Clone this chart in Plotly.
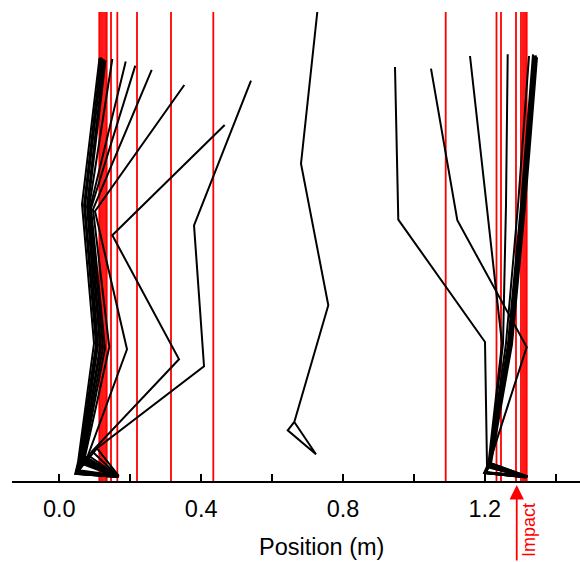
import plotly.graph_objects as go

# Stick-figure frames of a jump (horizontal position and height, metres).
# Each frame: trunk top -> hip -> knee -> ankle -> heel -> toe -> ankle.

# take-off frames
takeoff_top_x = [0.1134, 0.1176, 0.1218, 0.1261, 0.1303, 0.1495, 0.1873, 0.2143, 0.2606, 0.3525, 0.4664, 0.5406]
takeoff_top_y = [1.1935, 1.1949, 1.1921, 1.1892, 1.1864, 1.1901, 1.1828, 1.1715, 1.1591, 1.1168, 1.0040, 1.1292]
takeoff_hip_x = [0.0640, 0.0697, 0.0725, 0.0781, 0.0809, 0.0838, 0.0866, 0.0894, 0.0950, 0.1007, 0.1495, 0.3799]
takeoff_hip_y = [0.7803, 0.7775, 0.7747, 0.7747, 0.7719, 0.7719, 0.7691, 0.7691, 0.7662, 0.7606, 0.6929, 0.7211]
takeoff_knee_x = [0.0979, 0.1035, 0.1063, 0.1091, 0.1148, 0.1176, 0.1232, 0.1289, 0.1410, 0.1909, 0.3376, 0.4081]
takeoff_knee_y = [0.3883, 0.3855, 0.3827, 0.3827, 0.3799, 0.3770, 0.3770, 0.3742, 0.3779, 0.3714, 0.3432, 0.3235]
takeoff_ankle_x = [0.0527, 0.0555, 0.0583, 0.0612, 0.0640, 0.0640, 0.0668, 0.0697, 0.0725, 0.0809, 0.0922, 0.1063]
takeoff_ankle_y = [0.0527, 0.0556, 0.0584, 0.0584, 0.0612, 0.0640, 0.0640, 0.0668, 0.0696, 0.0725, 0.0838, 0.0922]
takeoff_heel_x = [0.045, 0.046, 0.047, 0.048, 0.049, 0.049, 0.050, 0.050, 0.051, 0.052, 0.053, 0.055]
takeoff_heel_y = [0.020, 0.020, 0.021, 0.021, 0.022, 0.022, 0.022, 0.023, 0.023, 0.024, 0.027, 0.030]
takeoff_toe_x = [0.163, 0.164, 0.165, 0.165, 0.166, 0.166, 0.166, 0.167, 0.167, 0.168, 0.166, 0.167]
takeoff_toe_y = [0.011, 0.011, 0.011, 0.012, 0.012, 0.012, 0.012, 0.013, 0.013, 0.013, 0.014, 0.015]

# flight frame
flight_top_x = [0.7276]
flight_top_y = [1.3226]
flight_hip_x = [0.6816]
flight_hip_y = [0.8951]
flight_knee_x = [0.7586]
flight_knee_y = [0.4955]
flight_ankle_x = [0.6627]
flight_ankle_y = [0.1664]
flight_heel_x = [0.6441]
flight_heel_y = [0.1430]
flight_toe_x = [0.7239]
flight_toe_y = [0.0753]

# landing frames
landing_top_x = [0.9467, 1.0482, 1.1582, 1.2645, 1.3246, 1.3359, 1.3387, 1.3415, 1.3443, 1.3472]
landing_top_y = [1.1675, 1.1630, 1.1985, 1.2033, 1.1985, 1.2033, 1.2005, 1.1977, 1.2005, 1.1949]
landing_hip_x = [0.9560, 1.1224, 1.2053, 1.2597, 1.2936, 1.3020, 1.3049, 1.3077, 1.3105, 1.3133]
landing_hip_y = [0.7372, 0.7352, 0.7775, 0.7775, 0.7775, 0.7775, 0.7775, 0.7775, 0.7775, 0.7747]
landing_knee_x = [1.2005, 1.3181, 1.2484, 1.2513, 1.2597, 1.2654, 1.2682, 1.2710, 1.2738, 1.2766]
landing_knee_y = [0.3920, 0.3779, 0.3883, 0.3883, 0.3883, 0.3883, 0.3883, 0.3855, 0.3855, 0.3855]
landing_ankle_x = [1.2062, 1.2098, 1.2090, 1.2118, 1.2118, 1.2118, 1.2146, 1.2146, 1.2146, 1.2174]
landing_ankle_y = [0.0415, 0.0415, 0.0386, 0.0415, 0.0443, 0.0471, 0.0471, 0.0499, 0.0499, 0.0499]
landing_heel_x = [1.198, 1.199, 1.200, 1.200, 1.201, 1.201, 1.202, 1.202, 1.203, 1.203]
landing_heel_y = [0.023, 0.023, 0.022, 0.023, 0.023, 0.024, 0.024, 0.024, 0.025, 0.025]
landing_toe_x = [1.316, 1.317, 1.318, 1.318, 1.319, 1.319, 1.320, 1.320, 1.320, 1.321]
landing_toe_y = [0.010, 0.010, 0.011, 0.011, 0.011, 0.012, 0.012, 0.012, 0.013, 0.013]

# marker positions (vertical reference lines)
marker_x = [0.1128, 0.1176, 0.1232, 0.1289, 0.1337, 0.1458, 0.1636, 0.2191, 0.3150, 0.4343,
            1.0897, 1.2329, 1.2456, 1.2879, 1.3020, 1.3077, 1.3133, 1.3181]

impact_x = 1.290

x_range = [-0.1334, 1.4684]
y_range = [0.0, 1.3226]
x_ticks_major = [0.0, 0.4, 0.8, 1.2]


def frames_to_path(tx, ty, hx, hy, kx, ky, ax, ay, ex, ey, fx, fy):
    xs, ys = [], []
    for i in range(len(tx)):
        xs += [tx[i], hx[i], kx[i], ax[i], ex[i], fx[i], ax[i], None]
        ys += [ty[i], hy[i], ky[i], ay[i], ey[i], fy[i], ay[i], None]
    return xs, ys


fig = go.Figure()

# red reference lines spanning the full height
rx, ry = [], []
for x in marker_x:
    rx += [x, x, None]
    ry += [y_range[0], y_range[1], None]
fig.add_trace(go.Scatter(x=rx, y=ry, mode="lines",
                         line=dict(color="#ff0000", width=1.8),
                         hoverinfo="skip", showlegend=False))

groups = [
    (takeoff_top_x, takeoff_top_y, takeoff_hip_x, takeoff_hip_y, takeoff_knee_x, takeoff_knee_y,
     takeoff_ankle_x, takeoff_ankle_y, takeoff_heel_x, takeoff_heel_y, takeoff_toe_x, takeoff_toe_y),
    (flight_top_x, flight_top_y, flight_hip_x, flight_hip_y, flight_knee_x, flight_knee_y,
     flight_ankle_x, flight_ankle_y, flight_heel_x, flight_heel_y, flight_toe_x, flight_toe_y),
    (landing_top_x, landing_top_y, landing_hip_x, landing_hip_y, landing_knee_x, landing_knee_y,
     landing_ankle_x, landing_ankle_y, landing_heel_x, landing_heel_y, landing_toe_x, landing_toe_y),
]
for g in groups:
    xs, ys = frames_to_path(*g)
    fig.add_trace(go.Scatter(x=xs, y=ys, mode="lines",
                             line=dict(color="black", width=2),
                             hoverinfo="skip", showlegend=False))

font_family = "Liberation Sans, Arial, sans-serif"

# impact arrow and label below the axis
fig.add_annotation(x=impact_x, y=-0.0085, xref="x", yref="paper",
                   ax=0, ay=80, axref="pixel", ayref="pixel",
                   text="", showarrow=True, arrowhead=2, arrowsize=1.6,
                   arrowwidth=1.8, arrowcolor="#ff0000", standoff=0, startstandoff=0)
fig.add_annotation(x=1.3246, y=-0.1045, xref="x", yref="paper",
                   text="Impact", textangle=-90, showarrow=False,
                   xanchor="center", yanchor="middle",
                   font=dict(family=font_family, size=18, color="#ff0000"))

# axis title
fig.add_annotation(x=0.7394, y=-0.1407, xref="x", yref="paper",
                   text="Position (m)", showarrow=False,
                   xanchor="center", yanchor="middle",
                   font=dict(family=font_family, size=23.5, color="black"))

fig.update_layout(
    width=580, height=562,
    margin=dict(l=12, r=0, t=12, b=81),
    paper_bgcolor="white", plot_bgcolor="white",
    font=dict(family=font_family, color="black"),
    showlegend=False,
    xaxis=dict(
        range=x_range, showgrid=False, zeroline=False,
        showline=True, linecolor="black", linewidth=2,
        tickmode="array", tickvals=x_ticks_major, tickformat=".1f",
        ticks="inside", ticklen=7, tickwidth=1.5, tickcolor="black",
        tickfont=dict(size=23.5, family=font_family),
        ticklabelstandoff=6,
        minor=dict(dtick=0.2, tick0=0, ticks="inside", ticklen=7, tickwidth=1.5, tickcolor="black"),
    ),
    yaxis=dict(range=y_range, visible=False),
)

fig.write_html("out.html")
